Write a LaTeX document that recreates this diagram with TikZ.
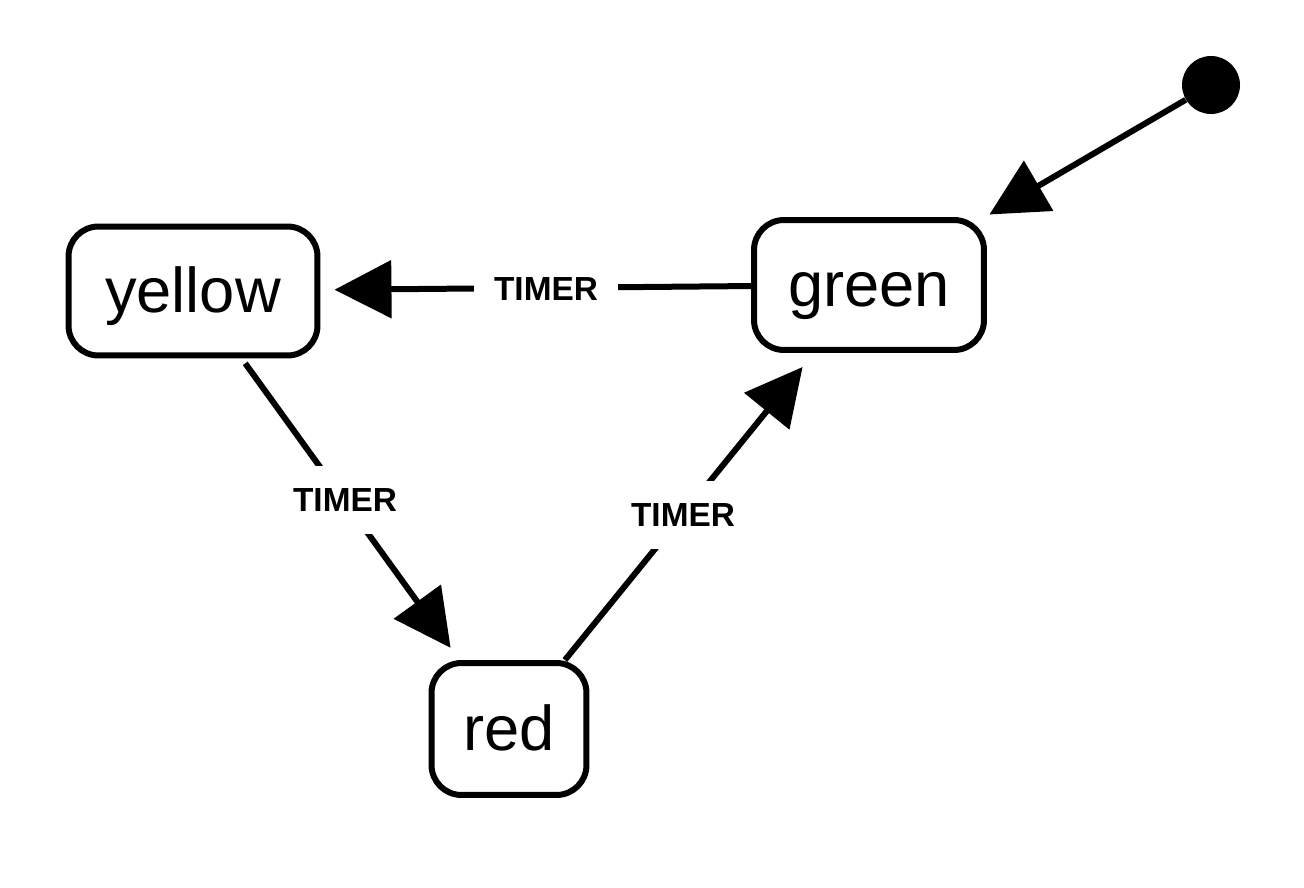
\documentclass[tikz,border=0pt]{standalone}
\usepackage{fontspec}
\setmainfont{Liberation Sans}
\usetikzlibrary{arrows.meta}
\begin{document}
\begin{tikzpicture}[x=0.02cm,y=-0.02cm,
  state/.style={draw,line width=0.12cm,rounded corners=0.6cm,inner sep=0pt,
    font=\fontsize{36}{40}\selectfont,text height=30pt,text depth=5pt},
  lbl/.style={fill=white,inner xsep=0.4cm,inner ysep=0.44cm,
    font=\fontsize{19}{21}\selectfont\bfseries,text height=13.6pt,text depth=0pt},
  conn/.style={line width=0.12cm,-{Triangle[length=1.14cm,width=1.14cm]}},
  initdot/.style={circle,fill=black,inner sep=0pt,minimum size=1.16cm}]
\useasboundingbox (0,0) rectangle (1304,888);
\node[state,minimum width=4.98cm,minimum height=2.58cm] (yellow) at (193,291) {yellow};
\node[state,minimum width=4.6cm,minimum height=2.6cm] (green) at (869,285) {green};
\node[state,minimum width=3.1cm,minimum height=2.64cm] (red) at (509,729) {red};
\node[initdot] (init) at (1211,85) {};
\draw[conn,shorten >=0.1cm] (init) -- (green);
\draw[conn,shorten >=0.28cm] (green) -- (yellow);
\draw[conn,shorten <=0.12cm,shorten >=0.3cm] (yellow) -- (red);
\draw[conn,shorten >=0.36cm] (red) -- (green);
\node[lbl] (l1) at (546,289) {TIMER};
\node[lbl] (l2) at (345,500) {TIMER};
\node[lbl] (l3) at (683,515) {TIMER};
\end{tikzpicture}
\end{document}
